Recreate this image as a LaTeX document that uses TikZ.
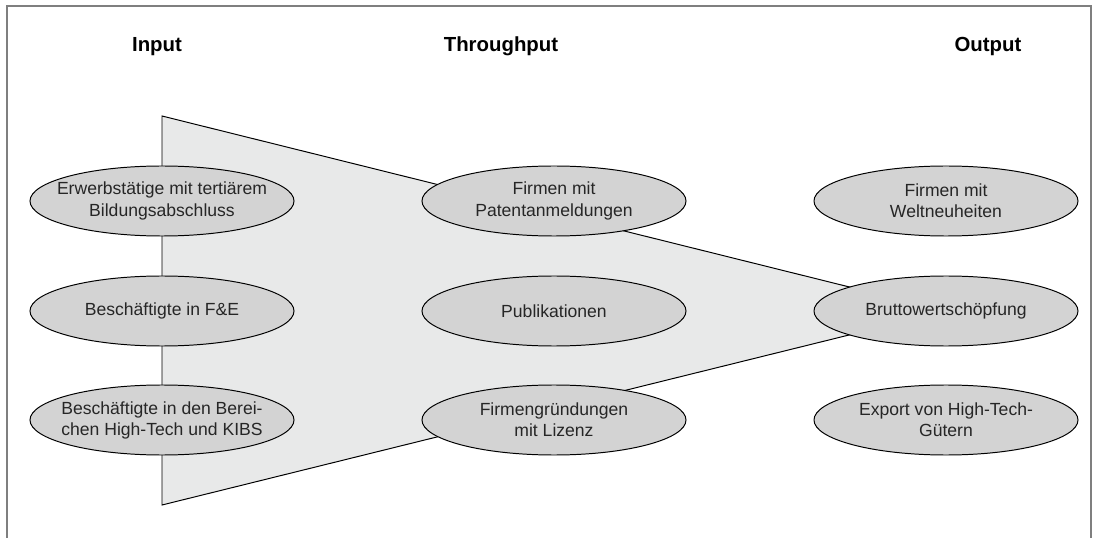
\documentclass[tikz,border=0pt]{standalone}
\usepackage{fontspec}
\setmainfont{Liberation Sans}
\usepackage{tikz}
\usetikzlibrary{shapes.geometric}
\usetikzlibrary{positioning}
\definecolor{ovalgray}{HTML}{D3D3D3}
\definecolor{funnelgray}{HTML}{E8E9E9}
\definecolor{framegray}{HTML}{7F7F7F}

\begin{document}
\begin{tikzpicture} [x=0.25mm, y=-0.25mm,
      oval/.style={ellipse, draw=black, line width=0.7pt, fill=ovalgray,
        minimum width=6.6cm, minimum height=1.75cm,
        inner xsep=-0.6cm, inner ysep=0pt, align=center,
        text=black!85, font=\fontsize{12.5}{15}\selectfont},
      coltitle/.style={anchor=base, font=\fontsize{14.5}{17}\selectfont\bfseries}]
      \useasboundingbox (0,0) rectangle (1096,538);

      % frame, open at the bottom
      \draw[framegray, line width=1.4pt] (7,538) -- (7,6) -- (1091,6) -- (1091,538);

      \node[coltitle] (input) at (157,52) {Input};
      \node[coltitle] (throughput) at (501,52) {Throughput};
      \node[coltitle] (output) at (988,52) {Output};

      \coordinate (funneltop) at (162,116);
      \coordinate (funnelbot) at (162,505);
      \coordinate (funneltip) at (946,311);
      \draw[line width=0.7pt, fill=funnelgray] (funneltop) -- (funneltip) -- (funnelbot) -- cycle;

      \node[oval] (in1) at (162,201) {Erwerbstätige mit tertiärem\\Bildungsabschluss};
      \node[oval] (in2) at (162,311) {Beschäftigte in F\&E};
      \node[oval] (in3) at (162,420) {Beschäftigte in den Berei-\\chen High-Tech und KIBS};

      \node[oval] (thr1) at (554,201) {Firmen mit\\Patentanmeldungen};
      \node[oval] (thr2) at (554,311) {Publikationen};
      \node[oval] (thr3) at (554,420) {Firmengründungen\\mit Lizenz};

      \node[oval] (out1) at (946,201) {Firmen mit\\Weltneuheiten};
      \node[oval] (out2) at (946,311) {Bruttowertschöpfung};
      \node[oval] (out3) at (946,420) {Export von High-Tech-\\Gütern};
    \end{tikzpicture}
\end{document}
